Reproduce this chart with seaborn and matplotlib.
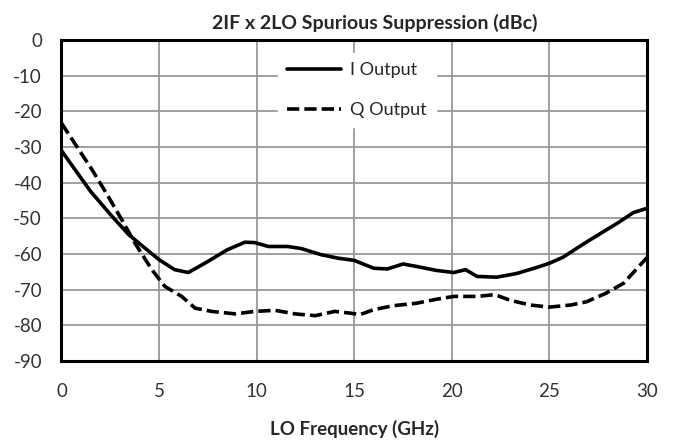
import matplotlib
matplotlib.use("Agg")
import matplotlib.pyplot as plt
import seaborn as sns
import pandas as pd

# I Output
i_freq = [0, 0.7, 1.5, 2.6, 3.45, 4.2, 5.0, 5.8, 6.5, 7.5, 8.5, 9.4, 9.9, 10.6,
          11.6, 12.3, 13.3, 14.2, 15.0, 16.0, 16.7, 17.5, 18.2, 19.2, 20.1,
          20.7, 21.3, 22.3, 23.3, 24.4, 25.0, 25.7, 26.8, 27.6, 28.5, 29.3, 30.0]
i_vals = [-31, -36.4, -42.5, -49.5, -54.6, -58.0, -61.6, -64.4, -65.2, -62.1,
          -58.8, -56.7, -56.8, -57.9, -57.9, -58.5, -60.2, -61.2, -61.8, -64.0,
          -64.2, -62.8, -63.5, -64.6, -65.2, -64.4, -66.3, -66.5, -65.5, -63.7,
          -62.6, -60.9, -57.0, -54.3, -51.3, -48.4, -47.2]

# Q Output
q_freq = [0, 0.8, 1.57, 2.4, 3.1, 3.77, 4.63, 5.3, 6.16, 6.85, 7.7, 8.9, 9.9,
          10.95, 11.97, 13.0, 14.0, 14.8, 15.3, 16.0, 17.0, 18.2, 19.2, 20.1,
          21.3, 22.2, 23.0, 24.0, 25.0, 26.1, 26.9, 27.9, 28.8, 29.5, 30.0]
q_vals = [-23.3, -30, -36.4, -43.9, -50.5, -57.0, -64.4, -69.1, -71.9, -75.2,
          -76.1, -76.8, -76.1, -75.8, -76.8, -77.3, -76.1, -76.6, -77.0, -75.6,
          -74.5, -73.8, -72.7, -71.9, -71.9, -71.4, -73.0, -74.3, -74.9, -74.3,
          -73.4, -71.0, -68.2, -64.0, -61.0]

series_names = ["I Output", "Q Output"]
title_text = "2IF x 2LO Spurious Suppression (dBc)"
xlabel_text = "LO Frequency (GHz)"
x_ticks = [0, 5, 10, 15, 20, 25, 30]
y_ticks = [0, -10, -20, -30, -40, -50, -60, -70, -80, -90]

df = pd.concat([
    pd.DataFrame({"freq": i_freq, "val": i_vals, "series": series_names[0]}),
    pd.DataFrame({"freq": q_freq, "val": q_vals, "series": series_names[1]}),
], ignore_index=True)

sns.set_style("white")
plt.rcParams["font.family"] = ["Lato", "DejaVu Sans"]
plt.rcParams["axes.unicode_minus"] = False

fig = plt.figure(figsize=(6.77, 4.44), dpi=100)
ax = fig.add_axes([0.0908, 0.187, 0.8649, 0.7229])

sns.lineplot(data=df, x="freq", y="val", style="series", color="black",
             dashes={"I Output": "", "Q Output": (3.4, 1.4)},
             linewidth=2.6, ax=ax, sort=False, estimator=None)

ax.set_xlim(0, 30)
ax.set_ylim(-90, 0)
ax.set_xticks(x_ticks)
ax.set_yticks(y_ticks)
ax.grid(True, color="#999999", linewidth=1.3)
ax.set_axisbelow(True)
for s in ax.spines.values():
    s.set_color("black")
    s.set_linewidth(2.2)
ax.tick_params(axis="both", length=0, labelsize=13.5, colors="#333333")
ax.tick_params(axis="y", pad=14)
ax.tick_params(axis="x", pad=16)

ax.set_xlabel(xlabel_text, fontsize=13.5, fontweight="bold")
ax.xaxis.set_label_coords(0.5, -0.185)
ax.set_ylabel("")
ax.set_title(title_text, fontsize=14, fontweight="bold", pad=8, loc="center",
             x=0.535)

leg = ax.legend(loc="upper left", bbox_to_anchor=(0.37, 0.96),
                borderaxespad=0, frameon=True, fontsize=13,
                handlelength=3.0, handletextpad=0.5, labelspacing=1.35,
                borderpad=0.5, fancybox=False)
leg.get_frame().set_facecolor("white")
leg.get_frame().set_edgecolor("white")
leg.get_frame().set_alpha(1)
leg.set_title(None)

fig.savefig("out.png", dpi=100)
